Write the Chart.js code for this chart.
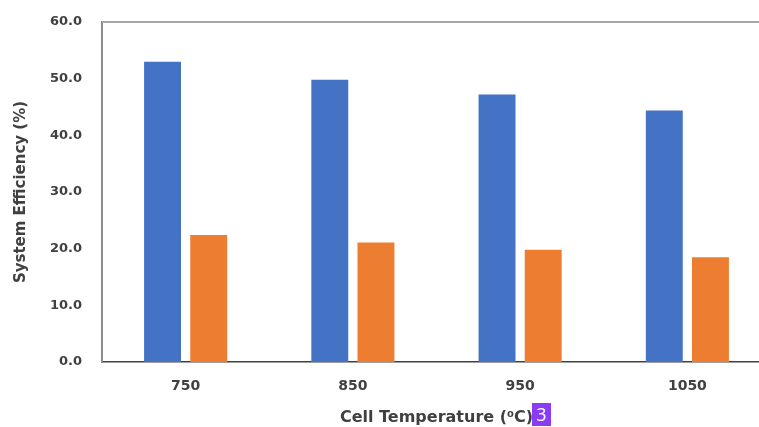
<!DOCTYPE html>
<html>
<head>
<meta charset="utf-8">
<script src="https://cdn.jsdelivr.net/npm/chart.js@4"></script>
<style>
    html, body { margin: 0; padding: 0; background: #fff; overflow: hidden; }
    #wrap { position: relative; width: 759px; height: 427px; overflow: hidden; }
    #badge {
        position: absolute; left: 532px; top: 403px; width: 19px; height: 23px;
        background: #8a3cf5; color: #fff; font: 18px "Noto Sans", sans-serif;
        line-height: 23px; text-align: center;
    }
</style>
</head>
<body>
<div id="wrap">
    <canvas id="effChart" width="790" height="427"></canvas>
    <div id="badge">3</div>
</div>
<script>
// Data
const temperatures = ['750', '850', '950', '1050'];
const seriesBlue = [53.0, 49.8, 47.2, 44.4];
const seriesOrange = [22.4, 21.1, 19.8, 18.5];

const yMin = 0;
const yMax = 60;
const yStep = 10;

Chart.defaults.font.family = '"DejaVu Sans", sans-serif';
Chart.defaults.color = '#404040';

// top frame line of the plot area
const topFrame = {
    id: 'topFrame',
    afterDraw(chart) {
        const { ctx, chartArea } = chart;
        ctx.save();
        ctx.strokeStyle = '#a6a6a6';
        ctx.lineWidth = 2;
        ctx.beginPath();
        ctx.moveTo(chartArea.left, chartArea.top);
        ctx.lineTo(chartArea.right + 20, chartArea.top);
        ctx.stroke();
        ctx.restore();
    }
};

const ctx = document.getElementById('effChart').getContext('2d');
new Chart(ctx, {
    type: 'bar',
    data: {
        labels: temperatures,
        datasets: [
            {
                label: 'Series 1',
                data: seriesBlue,
                backgroundColor: '#4472c4',
                categoryPercentage: 0.552,
                barPercentage: 0.8
            },
            {
                label: 'Series 2',
                data: seriesOrange,
                backgroundColor: '#ed7d31',
                categoryPercentage: 0.552,
                barPercentage: 0.8
            }
        ]
    },
    options: {
        responsive: false,
        animation: false,
        layout: { padding: { left: 0, right: 19, top: 22, bottom: 0 } },
        plugins: {
            legend: { display: false },
            tooltip: { enabled: false }
        },
        scales: {
            x: {
                grid: { display: false, drawTicks: false },
                border: { display: true, color: '#404040', width: 1.5 },
                ticks: { font: { size: 14, weight: 'bold' }, padding: 16 },
                title: {
                    display: true,
                    text: 'Cell Temperature (\u2070C)',
                    font: { size: 16, weight: 'bold' },
                    padding: { top: 0, bottom: 0 }
                },
                afterFit(scale) { scale.height -= 3; }
            },
            y: {
                min: yMin,
                max: yMax,
                grid: { display: false, drawTicks: false },
                border: { display: true, color: '#8c8c8c', width: 2 },
                ticks: {
                    stepSize: yStep,
                    font: { size: 13, weight: 'bold' },
                    padding: 20,
                    callback: v => v.toFixed(1)
                },
                title: {
                    display: true,
                    text: 'System Efficiency (%)',
                    font: { size: 15, weight: 'bold' },
                    padding: { top: 12, bottom: 0 }
                },
                afterFit(scale) {
                    scale.width = 102;
                    scale.paddingTop = 0;
                    scale.paddingBottom = 0;
                }
            }
        }
    },
    plugins: [topFrame]
});
</script>
</body>
</html>
